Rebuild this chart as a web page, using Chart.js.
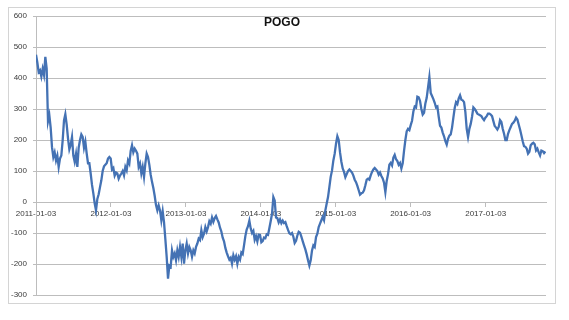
<!DOCTYPE html>
<html>
<head>
<meta charset="utf-8">
<script src="https://cdn.jsdelivr.net/npm/chart.js@4/dist/chart.umd.min.js"></script>
<style>
    html, body { margin: 0; padding: 0; background: #fff; }
</style>
</head>
<body>
<canvas id="grafico" width="569" height="320"></canvas>
<script>
const titulo = 'POGO';
const dataInicial = '2011-01-03';
const dataFinal = '2017-10-24';
const passoDias = 6.5; // um valor a cada ~6,5 dias
const tickLabels = ['2011-01-03', '2012-01-03', '2013-01-03', '2014-01-03', '2015-01-03', '2016-01-03', '2017-01-03'];
const yMin = -300;
const yMax = 600;
const yPasso = 100;

const pogo = [
    475, 450, 419, 425, 405, 430, 410, 468, 430, 260, 280, 240, 177, 145, 160, 134, 150, 113, 140, 150,
    199, 263, 283, 250, 205, 170, 185, 210, 150, 130, 155, 113, 175, 200, 218, 210, 175, 195, 157, 125,
    125, 92, 55, 28, -4, -27, 10, 25, 48, 70, 100, 115, 120, 125, 140, 145, 140, 105, 110, 85,
    95, 92, 75, 85,
    92, 100, 86, 113, 102, 134, 124, 165, 183, 160, 172, 165, 156, 113, 124, 92, 113, 81, 124, 156,
    145, 120, 88, 65, 45, 20, -10, -27, -11, -27, -59, -30, -65, -120, -177, -247, -205, -209, -156, -177,
    -166, -188, -156, -177, -145, -177, -134, -199, -156, -134, -166, -145, -156, -177, -156, -166, -145, -134, -118, -123,
    -91, -113, -102, -81,
    -95, -81, -62, -70, -50, -64, -52, -45, -56, -66, -83, -95, -115, -127, -148, -163, -175, -186, -180, -199,
    -172, -186, -175, -199, -177, -186, -163, -168, -140, -110, -89, -78, -60, -85, -100, -93, -122, -110, -127, -105,
    -106, -130, -126, -115, -117, -104, -106, -85, -62, -38, 16, 5, -50, -52, -66, -56, -68, -60, -68, -65,
    -78, -90, -101,
    -104, -100, -112, -132, -125, -108, -96, -99, -112, -126, -140, -153, -169, -188, -205, -188, -156, -140, -145, -113,
    -102, -81, -70, -59, -48, -59, -27, -5, 16, 48, 81, 102, 134, 156, 188, 212, 200, 160, 130, 108,
    97, 80, 90, 100, 105, 100, 95, 85, 72, 64, 52, 38, 24, 28, 30, 38, 54, 72, 75, 72,
    86, 97, 105, 110,
    105, 100, 88, 95, 84, 76, 62, 32, 68, 90, 120, 126, 118, 143, 152, 138, 132, 120, 126, 108,
    125, 165, 200, 228, 236, 232, 248, 262, 292, 308, 305, 340, 338, 326, 300, 282, 288, 318, 336, 370,
    403, 352, 342, 332, 320, 305, 308, 275, 246, 240, 224, 212, 196, 185, 204, 214, 218, 240, 272, 303,
    322, 316, 334, 344,
    330, 328, 322, 290, 236, 210, 236, 252, 275, 305, 300, 293, 285, 282, 280, 277, 270, 264, 272, 277,
    285, 285, 282, 277, 261, 245, 240, 234, 242, 264, 258, 236, 220, 200, 200, 220, 232, 242, 252, 256,
    262, 272, 266, 250, 234, 215, 196, 180, 178, 172, 156, 162, 183, 188, 191, 186, 166, 172, 160, 150,
    166, 164, 158, 163
];

const corGrade = '#bdbdbd';
const corTexto = '#3a3a3a';
const fonteEixo = { family: '"Liberation Sans", Arial, sans-serif', size: 8 };

function diasDesdeInicio(s) {
    return (Date.parse(s) - Date.parse(dataInicial)) / 86400000;
}

// moldura cinza da area do grafico e titulo por cima da grade
const moldura = {
    id: 'moldura',
    beforeDraw(chart) {
        const c = chart.ctx;
        c.save();
        c.fillStyle = '#ffffff';
        c.fillRect(0, 0, chart.width, chart.height);
        c.strokeStyle = '#d4d4d4';
        c.lineWidth = 1;
        c.strokeRect(8.5, 7.5, 547, 296);
        c.restore();
    },
    afterDraw(chart) {
        const c = chart.ctx;
        c.save();
        c.fillStyle = '#111111';
        c.font = 'bold 12px "Liberation Sans", Arial, sans-serif';
        c.textAlign = 'center';
        c.textBaseline = 'middle';
        c.fillText(titulo, 282, 23);
        c.restore();
    }
};

function plotar() {
    const ctx = document.getElementById('grafico').getContext('2d');
    const pontos = pogo.map((v, i) => ({ x: i * passoDias, y: v }));
    const tickDias = tickLabels.map(diasDesdeInicio);

    new Chart(ctx, {
        type: 'line',
        data: {
            datasets: [{
                data: pontos,
                borderColor: '#4472b4',
                borderWidth: 2.3,
                pointRadius: 0,
                tension: 0,
                fill: false
            }]
        },
        options: {
            responsive: false,
            animation: false,
            events: [],
            layout: { padding: { left: 0, top: 16, right: 23, bottom: 25 } },
            plugins: {
                legend: { display: false },
                title: { display: false },
                tooltip: { enabled: false }
            },
            scales: {
                x: {
                    type: 'linear',
                    position: { y: 0 },
                    min: 0,
                    max: diasDesdeInicio(dataFinal),
                    afterBuildTicks: (s) => { s.ticks = tickDias.map(v => ({ value: v })); },
                    ticks: {
                        autoSkip: false,
                        maxRotation: 0,
                        padding: 3,
                        color: corTexto,
                        font: fonteEixo,
                        callback: (v, i) => tickLabels[i]
                    },
                    grid: { drawOnChartArea: false, tickLength: 4, color: corGrade },
                    border: { display: true, color: corGrade }
                },
                y: {
                    min: yMin,
                    max: yMax,
                    afterFit: (s) => { s.width = 36; },
                    ticks: {
                        stepSize: yPasso,
                        padding: 6,
                        color: corTexto,
                        font: fonteEixo
                    },
                    grid: { color: corGrade, tickLength: 3 },
                    border: { color: corGrade }
                }
            }
        },
        plugins: [moldura]
    });
}

window.addEventListener('DOMContentLoaded', plotar);
</script>
</body>
</html>
